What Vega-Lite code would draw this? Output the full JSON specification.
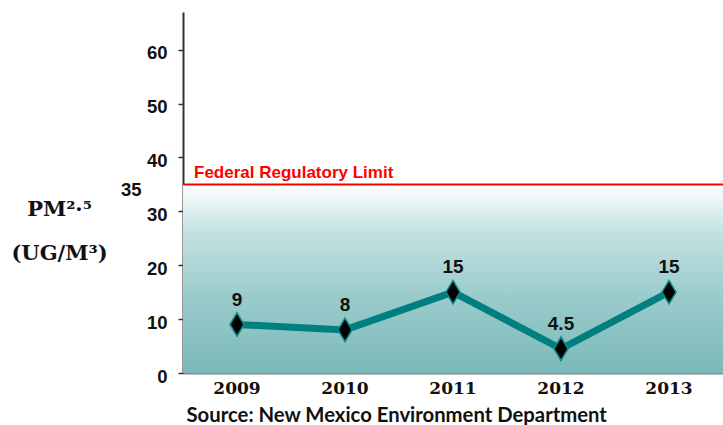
{
  "$schema": "https://vega.github.io/schema/vega-lite/v6.json",
  "width": 540,
  "height": 361,
  "autosize": {"type": "none"},
  "padding": {"left": 183, "top": 12, "right": 0, "bottom": 52},
  "background": "white",
  "config": {"view": {"stroke": null}},
  "datasets": {
    "pm": [
      {"year": "2009", "pm": 9, "label": "9"},
      {"year": "2010", "pm": 8, "label": "8"},
      {"year": "2011", "pm": 15, "label": "15"},
      {"year": "2012", "pm": 4.5, "label": "4.5"},
      {"year": "2013", "pm": 15, "label": "15"}
    ],
    "limit": [
      {"limit": 35, "base": 0, "label": "Federal Regulatory Limit", "year": "2009"}
    ]
  },
  "layer": [
    {
      "data": {"name": "limit"},
      "mark": {
        "type": "rect",
        "color": {
          "gradient": "linear",
          "x1": 0, "y1": 0, "x2": 0, "y2": 1,
          "stops": [
            {"offset": 0, "color": "#ffffff"},
            {"offset": 0.25, "color": "#c4e1e1"},
            {"offset": 0.6, "color": "#9acbcb"},
            {"offset": 1, "color": "#7bb9b9"}
          ]
        }
      },
      "encoding": {
        "y": {
          "field": "limit",
          "type": "quantitative",
          "scale": {"domain": [0, 67], "nice": false},
          "axis": {
            "values": [0, 10, 20, 30, 35, 40, 50, 60],
            "grid": false,
            "domainColor": "#333333",
            "domainWidth": 2,
            "tickColor": {"condition": {"test": "datum.value === 35", "value": "transparent"}, "value": "#333333"},
            "tickSize": 5,
            "tickWidth": 1.5,
            "labelFont": "Liberation Sans",
            "labelFontWeight": "bold",
            "labelFontSize": 18.5,
            "labelColor": "#111111",
            "labelPadding": {"condition": {"test": "datum.value === 35", "value": 37}, "value": 11},
            "labelOffset": {"condition": {"test": "datum.value === 35", "value": 5}, "value": 3},
            "title": ["PM²·⁵", "(UG/M³)"],
            "titleAngle": 0,
            "titleAlign": "center",
            "titleBaseline": "alphabetic",
            "titleX": -124,
            "titleY": 203,
            "titleFont": "DejaVu Serif",
            "titleFontSize": 21,
            "titleFontWeight": "bold",
            "titleColor": "#111111",
            "titleLineHeight": 44
          }
        },
        "y2": {"field": "base"}
      }
    },
    {
      "data": {"name": "limit"},
      "mark": {"type": "rule", "color": "#ff0000", "strokeWidth": 2},
      "encoding": {
        "y": {"field": "limit", "type": "quantitative", "scale": {"domain": [0, 67], "nice": false}}
      }
    },
    {
      "data": {"name": "limit"},
      "mark": {
        "type": "text",
        "color": "#ff0000",
        "font": "Liberation Sans",
        "fontWeight": "bold",
        "fontSize": 17,
        "align": "left",
        "baseline": "alphabetic",
        "dx": -43,
        "dy": -6
      },
      "encoding": {
        "x": {"field": "year", "type": "ordinal"},
        "y": {"field": "limit", "type": "quantitative", "scale": {"domain": [0, 67], "nice": false}},
        "text": {"field": "label"}
      }
    },
    {
      "data": {"name": "pm"},
      "mark": {"type": "line", "color": "#007f7f", "strokeWidth": 7},
      "encoding": {
        "x": {
          "field": "year",
          "type": "ordinal",
          "scale": {"type": "band", "paddingInner": 0, "paddingOuter": 0},
          "axis": {
            "domainColor": "#8a8a8a",
            "domainWidth": 2,
            "ticks": false,
            "labelAngle": 0,
            "labelAlign": "center",
            "labelFont": "DejaVu Serif",
            "labelFontWeight": "bold",
            "labelFontSize": 17,
            "labelColor": "#111111",
            "labelPadding": 15,
            "title": "Source: New Mexico Environment Department",
            "titleFont": "Lato",
            "titleFontWeight": "bold",
            "titleFontSize": 20.3,
            "titleColor": "#111111",
            "titleAnchor": "start",
            "titleAlign": "left",
            "titleBaseline": "alphabetic",
            "titleX": 3,
            "titleY": 48
          }
        },
        "y": {"field": "pm", "type": "quantitative", "scale": {"domain": [0, 67], "nice": false}}
      }
    },
    {
      "data": {"name": "pm"},
      "mark": {
        "type": "point",
        "shape": "M0,-1L0.6,0L0,1L-0.6,0Z",
        "size": 550,
        "filled": true,
        "fill": "#000000",
        "stroke": "#0b8b8b",
        "strokeWidth": 1.5,
        "opacity": 1
      },
      "encoding": {
        "x": {"field": "year", "type": "ordinal"},
        "y": {"field": "pm", "type": "quantitative", "scale": {"domain": [0, 67], "nice": false}}
      }
    },
    {
      "data": {"name": "pm"},
      "mark": {
        "type": "text",
        "font": "Liberation Sans",
        "fontWeight": "bold",
        "fontSize": 19,
        "color": "#111111",
        "baseline": "middle",
        "dy": -25
      },
      "encoding": {
        "x": {"field": "year", "type": "ordinal"},
        "y": {"field": "pm", "type": "quantitative", "scale": {"domain": [0, 67], "nice": false}},
        "text": {"field": "label"}
      }
    }
  ]
}
